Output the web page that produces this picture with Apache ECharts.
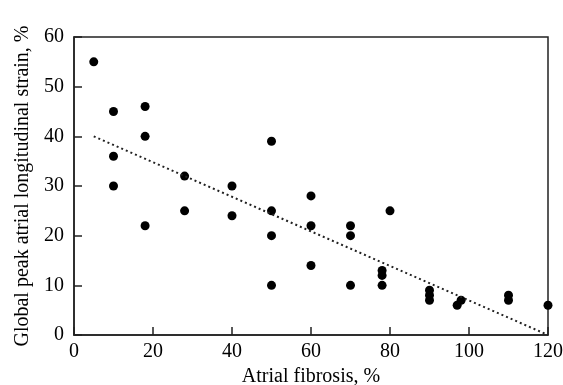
<!DOCTYPE html>
<html><head><meta charset="utf-8">
<script src="https://cdn.jsdelivr.net/npm/echarts@6/dist/echarts.min.js"></script>
<style>html,body{margin:0;padding:0;background:#fff}#c{width:563px;height:385px}</style>
</head><body><div id="c"></div>
<script>
const fibrosis = [5,10,10,10,18,18,18,28,28,40,40,50,50,50,50,60,60,60,70,70,70,78,78,78,80,90,90,90,97,98,110,110,120];
const strain   = [55,45,36,30,46,40,22,32,25,30,24,39,25,20,10,28,22,14,22,20,10,13,12,10,25,9,8,7,6,7,8,7,6];
const trendX = [5,120];
const trendY = [40,0];
const xTicks = [0,20,40,60,80,100,120];
const yTicks = [0,10,20,30,40,50,60];

const font = "Liberation Serif";
const chart = echarts.init(document.getElementById('c'));
const axisCommon = {
  axisLine:{show:true,lineStyle:{color:'#222',width:1.5}},
  axisTick:{show:true,inside:true,length:8,lineStyle:{color:'#222',width:1.5}},
  splitLine:{show:false},
  axisLabel:{color:'#000',fontFamily:font,fontSize:20},
  nameTextStyle:{color:'#000',fontFamily:font,fontSize:20}
};
chart.setOption({
  animation:false,
  grid:{left:74,right:15,top:37,bottom:50,containLabel:false,outerBoundsMode:'none',show:true,borderColor:'#222',borderWidth:1.5},
  xAxis:Object.assign({}, axisCommon, {
    type:'value',min:xTicks[0],max:xTicks[xTicks.length-1],interval:20,
    name:'Atrial fibrosis, %',nameLocation:'middle',nameGap:29,
    axisLabel:Object.assign({},axisCommon.axisLabel,{margin:7})
  }),
  yAxis:Object.assign({}, axisCommon, {
    type:'value',min:yTicks[0],max:yTicks[yTicks.length-1],interval:10,
    name:'Global peak atrial longitudinal strain, %',nameLocation:'middle',nameGap:41,
    axisLabel:Object.assign({},axisCommon.axisLabel,{margin:10})
  }),
  series:[
    {type:'scatter',data:fibrosis.map((x,i)=>[x,strain[i]]),symbolSize:9,itemStyle:{color:'#000',opacity:1}},
    {type:'line',data:trendX.map((x,i)=>[x,trendY[i]]),symbol:'none',lineStyle:{color:'#222',width:2,type:[2,3]}}
  ]
});
</script></body></html>
